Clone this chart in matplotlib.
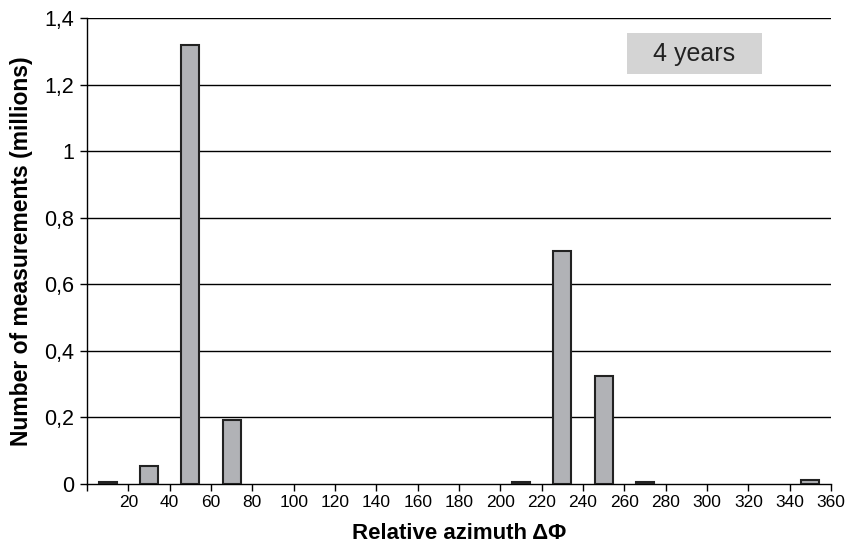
import matplotlib.pyplot as plt

# Data
bin_centers = [10, 30, 50, 70, 210, 230, 250, 270, 350]
counts = [0.005, 0.055, 1.318, 0.192, 0.005, 0.700, 0.325, 0.005, 0.012]
x_ticks = list(range(20, 361, 20))
y_ticks = [0, 0.2, 0.4, 0.6, 0.8, 1.0, 1.2, 1.4]
y_tick_labels = ["0", "0,2", "0,4", "0,6", "0,8", "1", "1,2", "1,4"]

plt.rcParams['font.family'] = ['Liberation Sans', 'DejaVu Sans']

fig = plt.figure(figsize=(8.46, 5.48), dpi=100)
ax = fig.add_axes([0.1028, 0.1168, 0.8795, 0.8504])

# Grid lines
for y in y_ticks[1:]:
    ax.axhline(y, color="black", lw=1.0, zorder=1)

ax.bar(bin_centers, counts, width=8.6, color="#b1b2b6",
       edgecolor="#222222", linewidth=1.5, zorder=3)

ax.set_xlim(0, 360)
ax.set_ylim(0, 1.4)
ax.set_xticks([0] + x_ticks)
ax.set_xticklabels([""] + [str(t) for t in x_ticks], fontsize=12.5)
ax.set_yticks(y_ticks)
ax.set_yticklabels(y_tick_labels, fontsize=15.5)

ax.tick_params(axis="x", direction="out", length=5, width=1, pad=3)
ax.tick_params(axis="y", direction="out", length=5, width=1, pad=4)

for s in ["top", "right"]:
    ax.spines[s].set_visible(False)
ax.spines["left"].set_linewidth(1.0)
ax.spines["bottom"].set_linewidth(1.0)

ax.set_xlabel("Relative azimuth ΔΦ", fontsize=16, fontweight="bold", labelpad=9)
ax.set_ylabel("Number of measurements (millions)", fontsize=16.5,
              fontweight="bold", labelpad=8)

# "4 years" label box
fig.patches.append(plt.Rectangle((627 / 846, 1 - 74 / 548), 135 / 846, 41 / 548,
                                 transform=fig.transFigure, facecolor="#d4d4d4",
                                 edgecolor="none", zorder=5))
fig.text(694.5 / 846, 1 - 53.5 / 548, "4 years", ha="center", va="center",
         fontsize=18, color="#222222", zorder=6)

fig.savefig("out.png", dpi=100)
